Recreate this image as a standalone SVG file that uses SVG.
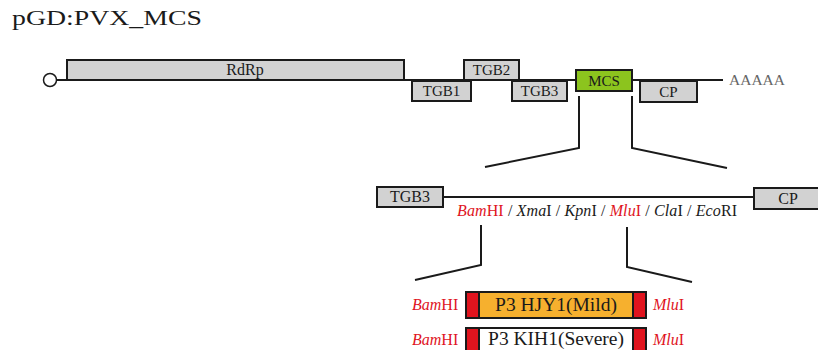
<svg xmlns="http://www.w3.org/2000/svg" width="818" height="350" viewBox="0 0 818 350">
<style>
text{font-family:"Liberation Serif","Times New Roman",serif;fill:#1a1a1a}
.box{fill:#d2d2d2;stroke:#1a1a1a;stroke-width:2}
.lbl{font-size:15px;text-anchor:middle}
.big{font-size:16px}
.ln{stroke:#1a1a1a;stroke-width:2;fill:none}
.red{fill:#e0141e}
.site{font-size:16px}
.ins{font-size:19.5px;text-anchor:middle}
</style>
<rect width="818" height="350" fill="#fff"/>
<text x="12" y="25" font-size="21" textLength="190" lengthAdjust="spacingAndGlyphs">pGD:PVX_MCS</text>
<g id="connectors">
<line class="ln" x1="57" y1="80" x2="723" y2="80"/>
<polyline class="ln" points="579,96 579,148 485,167"/>
<polyline class="ln" points="632,96 632,148 727,168"/>
<line class="ln" x1="443" y1="197" x2="754" y2="197"/>
<polyline class="ln" points="481,225 481,265 415,280"/>
<polyline class="ln" points="627,227 627,267 692,282"/>
</g>
<g id="cap"><circle cx="50" cy="80" r="6.5" fill="#fff" stroke="#1a1a1a" stroke-width="1.5"/></g>
<g id="rdrp"><rect class="box" x="67" y="60" width="337" height="20"/><text class="lbl big" x="245" y="75">RdRp</text></g>
<g id="tgb1"><rect class="box" x="412" y="81" width="59" height="20"/><text class="lbl" x="441.5" y="96">TGB1</text></g>
<g id="tgb2"><rect class="box" x="464" y="60" width="55" height="20"/><text class="lbl" x="491.5" y="75">TGB2</text></g>
<g id="tgb3"><rect class="box" x="512" y="81" width="55" height="20"/><text class="lbl" x="539.5" y="96">TGB3</text></g>
<g id="mcs"><rect x="576" y="70" width="56" height="21" fill="#8cc41e" stroke="#1a1a1a" stroke-width="2"/><text class="lbl" x="604" y="86">MCS</text></g>
<g id="cp"><rect class="box" x="640" y="81" width="57" height="21" /><text class="lbl" x="668.5" y="97">CP</text></g>
<g id="polya"><text x="729" y="85" font-size="15.5" style="fill:#666">AAAAA</text></g>
<g id="tgb3b"><rect class="box" x="377" y="187" width="66" height="20"/><text class="lbl big" x="410" y="202">TGB3</text></g>
<g id="cpb"><rect class="box" x="754" y="188" width="70" height="21"/><text class="lbl big" x="788" y="204">CP</text></g>
<g id="sites"><text class="site" x="457" y="216" textLength="280" lengthAdjust="spacing"><tspan class="red" font-style="italic">Bam</tspan><tspan class="red">HI</tspan> / <tspan font-style="italic">Xma</tspan>I / <tspan font-style="italic">Kpn</tspan>I / <tspan class="red" font-style="italic">Mlu</tspan><tspan class="red">I</tspan> / <tspan font-style="italic">Cla</tspan>I / <tspan font-style="italic">Eco</tspan>RI</text></g>
<g id="insert1">
<rect x="466" y="292" width="180" height="26" fill="#f6b02e" stroke="#1a1a1a" stroke-width="2"/>
<rect x="467" y="293" width="12" height="24" fill="#e0141e"/><line class="ln" x1="479" y1="292" x2="479" y2="318"/>
<rect x="633" y="293" width="12" height="24" fill="#e0141e"/><line class="ln" x1="633" y1="292" x2="633" y2="318"/>
<text class="ins" x="556" y="311">P3 HJY1(Mild)</text>
<text class="site" x="412" y="310"><tspan class="red" font-style="italic">Bam</tspan><tspan class="red">HI</tspan></text>
<text class="site" x="653" y="310"><tspan class="red" font-style="italic">Mlu</tspan><tspan class="red">I</tspan></text>
</g>
<g id="insert2">
<rect x="466" y="328" width="180" height="27" fill="#fff" stroke="#1a1a1a" stroke-width="2"/>
<rect x="467" y="329" width="12" height="25" fill="#e0141e"/><line class="ln" x1="479" y1="328" x2="479" y2="355"/>
<rect x="633" y="329" width="12" height="25" fill="#e0141e"/><line class="ln" x1="633" y1="328" x2="633" y2="355"/>
<text class="ins" x="556" y="345">P3 KIH1(Severe)</text>
<text class="site" x="412" y="345"><tspan class="red" font-style="italic">Bam</tspan><tspan class="red">HI</tspan></text>
<text class="site" x="653" y="345"><tspan class="red" font-style="italic">Mlu</tspan><tspan class="red">I</tspan></text>
</g>
</svg>
